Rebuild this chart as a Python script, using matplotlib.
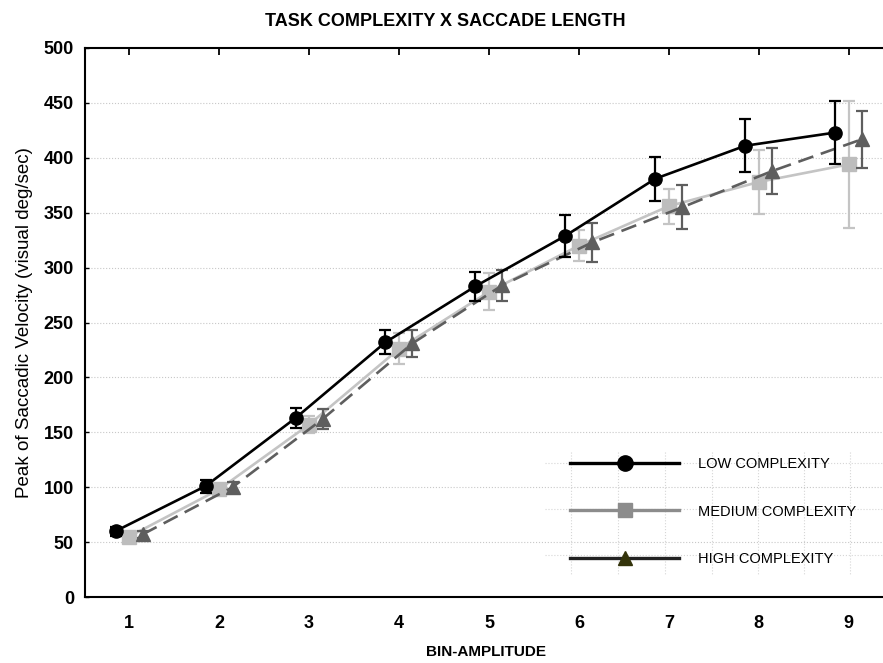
import matplotlib
matplotlib.use("Agg")
import matplotlib.pyplot as plt
from matplotlib.lines import Line2D
import numpy as np

bins = [1, 2, 3, 4, 5, 6, 7, 8, 9]
low = [60, 101, 163, 232, 283, 329, 381, 411, 423]
low_err = [4, 6, 9, 11, 13, 19, 20, 24, 29]
medium = [55, 98, 157, 226, 278, 320, 356, 378, 394]
medium_err = [3, 5, 8, 14, 17, 14, 16, 29, 58]
high = [57, 100, 162, 231, 284, 323, 355, 388, 417]
high_err = [3, 5, 9, 12, 14, 18, 20, 21, 26]
labels = ["LOW COMPLEXITY", "MEDIUM COMPLEXITY", "HIGH COMPLEXITY"]
yticks = [0, 50, 100, 150, 200, 250, 300, 350, 400, 450, 500]

plt.rcParams['font.family'] = ['Liberation Sans', 'DejaVu Sans']

fig = plt.figure(figsize=(8.83, 6.63), dpi=100)
W, H = 883, 663
ax = fig.add_axes([85 / W, 1 - 597 / H, (883 - 85) / W, (597 - 48) / H])

x = np.array(bins, dtype=float)
off = 0.15

ax.errorbar(x - off, low, yerr=low_err, color='black', lw=1.9, marker='o',
            ms=9.5, mfc='black', mec='black', ecolor='black', elinewidth=1.6,
            capsize=4.5, capthick=1.6, zorder=5)
ax.errorbar(x, medium, yerr=medium_err, color='#c4c4c4', lw=1.9, marker='s',
            ms=9.5, mfc='#bdbdbd', mec='#bdbdbd', ecolor='#c4c4c4', elinewidth=1.6,
            capsize=4.5, capthick=1.6, zorder=3)
ax.errorbar(x + off, high, yerr=high_err, color='#5e5e5e', lw=1.9, ls=(0, (6, 3)),
            marker='^', ms=9.5, mfc='#5e5e5e', mec='#5e5e5e', ecolor='#5e5e5e',
            elinewidth=1.6, capsize=4.5, capthick=1.6, zorder=4)

ax.set_xlim(0.51, 9.38)
ax.set_ylim(0, 500)
ax.set_yticks(yticks)
ax.set_xticks(bins)
ax.set_yticklabels([str(v) for v in yticks], fontweight='bold', fontsize=13)
ax.set_xticklabels([str(b) for b in bins], fontweight='bold', fontsize=13)

for v in yticks[1:-1]:
    ax.axhline(v, color='#c8c8c8', lw=0.8, ls=':', zorder=0)

ax.spines['right'].set_visible(False)
for s in ['left', 'top', 'bottom']:
    ax.spines[s].set_linewidth(1.5)
ax.tick_params(axis='x', which='both', bottom=False, top=True, direction='in',
               length=5, width=1.3, pad=13, labelbottom=True, labeltop=False)
ax.tick_params(axis='y', direction='in', length=3, width=1.0, pad=8)

ax.set_ylabel("Peak of Saccadic Velocity (visual deg/sec)", fontsize=13.5, labelpad=8)
fig.text(486 / W, 1 - 652 / H, "BIN-AMPLITUDE", ha='center', va='center',
         fontweight='bold', fontsize=11)
fig.text(445 / W, 1 - 21 / H, "TASK COMPLEXITY X SACCADE LENGTH",
         ha='center', va='center', fontsize=13, fontweight='bold')

# legend background dotted artifacts
for px in [571, 618, 665, 712, 758, 804, 850]:
    ax.plot([(px - 85) / 798] * 2, [(597 - 452) / 549, (597 - 575) / 549],
            transform=ax.transAxes, color='#d6d6d6', lw=0.8, ls=':', zorder=0)
for py in [463, 509, 555]:
    ax.plot([(545 - 85) / 798, 1.0], [(597 - py) / 549] * 2,
            transform=ax.transAxes, color='#d6d6d6', lw=0.8, ls=':', zorder=0)

handles = [
    Line2D([], [], color='black', lw=2.4, marker='o', ms=11, mfc='black', mec='black'),
    Line2D([], [], color='#8c8c8c', lw=2.4, marker='s', ms=10.5, mfc='#8c8c8c', mec='#8c8c8c'),
    Line2D([], [], color='#222222', lw=2.4, marker='^', ms=10.5, mfc='#33330a', mec='#33330a'),
]
leg = ax.legend(handles, labels, loc='upper left',
                bbox_to_anchor=((570 - 85) / 798, (597 - 457) / 549),
                frameon=False, fontsize=10.5, handlelength=7.5, handletextpad=1.3,
                labelspacing=2.3, borderpad=0, borderaxespad=0)

fig.savefig("out.png", dpi=100)
